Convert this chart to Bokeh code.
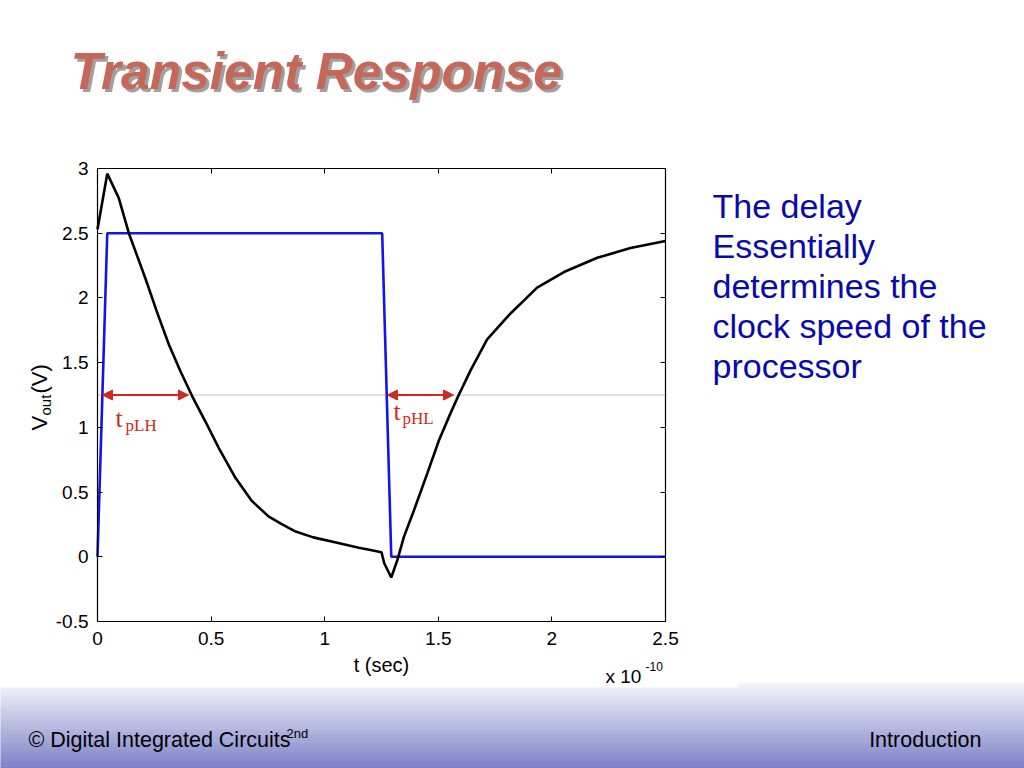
from bokeh.plotting import figure
from bokeh.models import (Range1d, FixedTicker, LinearAxis, Label, Arrow,
                          NormalHead, BoxAnnotation)
from bokeh.embed import file_html
from bokeh.resources import INLINE

# ---------------- data (time in units of 1e-10 s, voltage in V) ----------------
t_in = [0.0, 0.043, 1.253, 1.293, 2.5]
v_in = [0.0, 2.5, 2.5, 0.0, 0.0]

t_out = [0.0, 0.043, 0.094, 0.138, 0.211, 0.262, 0.314, 0.366, 0.417, 0.475,
         0.534, 0.607, 0.68, 0.754, 0.813, 0.872, 0.95, 1.05, 1.15, 1.202,
         1.25, 1.262, 1.293, 1.32, 1.349, 1.393, 1.452, 1.503, 1.554, 1.59,
         1.642, 1.715, 1.818, 1.935, 2.053, 2.2, 2.346, 2.5]
v_out = [2.53, 2.96, 2.77, 2.50, 2.15, 1.89, 1.64, 1.43, 1.24, 1.045,
         0.84, 0.61, 0.43, 0.31, 0.25, 0.195, 0.15, 0.11, 0.07, 0.053,
         0.035, -0.05, -0.16, -0.024, 0.156, 0.36, 0.646, 0.9, 1.11, 1.25,
         1.44, 1.68, 1.88, 2.08, 2.2, 2.31, 2.385, 2.44]

v_half = 1.25
tplh_span = [0.022, 0.40]
tphl_span = [1.276, 1.567]

x_min, x_max = 0.0, 2.5
y_min, y_max = -0.5, 3.0
x_ticks = [0, 0.5, 1, 1.5, 2, 2.5]
x_tick_labels = ["0", "0.5", "1", "1.5", "2", "2.5"]
y_ticks = [-0.5, 0, 0.5, 1, 1.5, 2, 2.5, 3]
y_tick_labels = ["-0.5", "0", "0.5", "1", "1.5", "2", "2.5", "3"]

title_text = "Transient Response"
side_lines = ["The delay", "Essentially", "determines the", "clock speed of the", "processor"]
footer_left = "\u00a9 Digital Integrated Circuits"
footer_sup = "2nd"
footer_right = "Introduction"

# ---------------- styling / layout ----------------
SANS = "'Liberation Sans', Arial, sans-serif"
SERIF = "'Liberation Serif', 'Times New Roman', serif"
RED = "#cc2a1e"

W, H = 1024, 768
# pixel positions of the chart box on the slide
PX_L, PX_R, PY_T, PY_B = 97, 665, 168, 621
kx = (PX_R - PX_L) / (x_max - x_min)
ky = (PY_B - PY_T) / (y_max - y_min)
xr = Range1d(x_min - PX_L / kx, x_max + (W - PX_R) / kx)
yr = Range1d(y_min - (H - PY_B) / ky, y_max + PY_T / ky)

p = figure(width=W, height=H, x_range=xr, y_range=yr,
           output_backend="svg", toolbar_location=None,
           x_axis_location=None, y_axis_location=None,
           min_border=0)
p.grid.visible = False
p.outline_line_color = None
p.background_fill_color = "white"
p.border_fill_color = "white"

xt = FixedTicker(ticks=x_ticks)
yt = FixedTicker(ticks=y_ticks)
x_over = {k: v for k, v in zip(x_ticks, x_tick_labels)}
y_over = {k: v for k, v in zip(y_ticks, y_tick_labels)}

ax_b = LinearAxis(ticker=xt, fixed_location=y_min, bounds=(x_min, x_max),
                  major_label_overrides=x_over)
ax_t = LinearAxis(ticker=xt, fixed_location=y_max, bounds=(x_min, x_max),
                  major_label_text_color=None)
ax_l = LinearAxis(ticker=yt, fixed_location=x_min, bounds=(y_min, y_max),
                  major_label_overrides=y_over)
ax_r = LinearAxis(ticker=yt, fixed_location=x_max, bounds=(y_min, y_max),
                  major_label_text_color=None)
p.add_layout(ax_b, "below")
p.add_layout(ax_t, "above")
p.add_layout(ax_l, "left")
p.add_layout(ax_r, "right")

for ax in (ax_b, ax_t, ax_l, ax_r):
    ax.major_tick_in = 5
    ax.major_tick_out = 0
    ax.minor_tick_in = 0
    ax.minor_tick_out = 0
    ax.axis_line_color = "black"
    ax.axis_line_width = 1.2
    ax.major_tick_line_color = "black"
    ax.major_label_text_font = SANS
    ax.major_label_text_font_size = "19px"

ax_b.major_label_text_color = "black"
ax_l.major_label_text_color = "black"
ax_b.major_label_standoff = 10
ax_l.major_label_standoff = 9
ax_b.axis_label = "t (sec)"
ax_b.axis_label_text_font = SANS
ax_b.axis_label_text_font_size = "20px"
ax_b.axis_label_text_font_style = "normal"
ax_b.axis_label_text_color = "black"
ax_b.axis_label_standoff = 6


def lbl(X, Y, text, size, font=SANS, color="black", style="normal", rotated=False,
        align="left"):
    """X, Y: slide pixel position of the text's start point on its baseline."""
    shift = 0.35 * size
    if rotated:
        x_s, y_s, ang = X - shift, H - Y, 1.5708
    else:
        x_s, y_s, ang = X, H - (Y - shift), 0.0
    p.add_layout(Label(x=x_s, y=y_s, x_units="screen", y_units="screen", text=text,
                       text_font=font, text_font_size=f"{size}px", text_color=color,
                       text_font_style=style, angle=ang, text_align=align,
                       text_baseline="middle"))


def band(X0, X1, Y0, Y1, color):
    p.add_layout(BoxAnnotation(left=X0, right=X1, top=H - Y0, bottom=H - Y1,
                               left_units="screen", right_units="screen",
                               top_units="screen", bottom_units="screen",
                               fill_color=color, fill_alpha=1.0, line_color=None,
                               level="underlay"))


# footer gradient bands (decoration)
n_bands = 40
top_Y, bot_Y = 682, 769
c0 = (246, 246, 250)
c1 = (120, 127, 198)
for i in range(n_bands):
    f = (i + 0.5) / n_bands
    col = "#%02x%02x%02x" % tuple(int(round(a + (b - a) * f)) for a, b in zip(c0, c1))
    y_a = top_Y + (bot_Y - top_Y) * i / n_bands
    y_b = top_Y + (bot_Y - top_Y) * (i + 1) / n_bands + 0.6
    band(-1, W + 1, y_a, y_b, col)
band(-1, 737, 680, 687, "white")

# half-swing reference line (inside the chart box only)
p.segment(x0=[x_min], y0=[v_half], x1=[x_max], y1=[v_half], line_color="#c4c4c4", line_width=1)

# curves
p.line(t_in, v_in, line_color="#1414e6", line_width=2.6)
p.line(t_out, v_out, line_color="black", line_width=2.6)

# delay arrows
for span in (tplh_span, tphl_span):
    p.add_layout(Arrow(x_start=span[0], y_start=v_half, x_end=span[1], y_end=v_half,
                       line_color=RED, line_width=2,
                       start=NormalHead(size=10, fill_color=RED, line_color=RED),
                       end=NormalHead(size=10, fill_color=RED, line_color=RED)))

# title with shadow
lbl(73, 92, title_text, 51.5, color="#a0a0a0", style="bold italic")
lbl(70, 89, title_text, 51.5, color="#c5685a", style="bold italic")

# side text
for i, line in enumerate(side_lines):
    lbl(712, 217 + 40 * i, line, 34, color="#0a0aaa")

# delay labels
lbl(115, 427, "t", 26, font=SERIF, color=RED)
lbl(125, 431, "pLH", 17, font=SERIF, color=RED)
lbl(393, 420, "t", 26, font=SERIF, color=RED)
lbl(402, 424, "pHL", 17, font=SERIF, color=RED)

# y axis label V_out(V), rotated
lbl(47, 430, "V", 22, rotated=True)
lbl(50, 415, "out", 15, rotated=True)
lbl(47, 393, "(V)", 22, rotated=True)

# exponent label
lbl(605, 683, "x 10", 19)
lbl(645, 670, "-10", 12)

# footer texts
lbl(28, 747, footer_left, 21.5)
lbl(286, 738, footer_sup, 13)
lbl(981, 747, footer_right, 21.5, align="right")

open("out.html", "w").write(file_html(p, INLINE))
